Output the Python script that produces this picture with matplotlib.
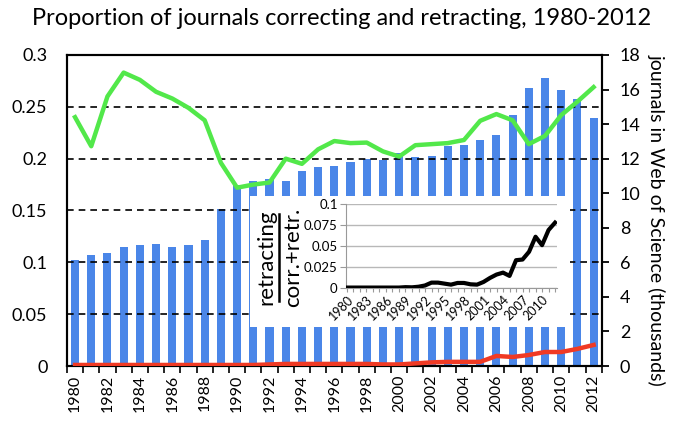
import matplotlib.pyplot as plt
from matplotlib.patches import Rectangle
from matplotlib.lines import Line2D
import numpy as np

plt.rcParams['font.family'] = ['Lato', 'DejaVu Sans']

years = list(range(1980, 2013))

# journals in Web of Science (thousands), blue bars, right axis
journals_wos = [6.11, 6.40, 6.54, 6.89, 6.99, 7.07, 6.89, 6.99, 7.32, 9.10,
                10.45, 10.70, 10.80, 10.70, 11.30, 11.50, 11.60, 11.80, 12.00, 11.95,
                12.35, 12.10, 12.15, 12.73, 12.77, 13.06, 13.35, 14.53, 16.08, 16.66,
                15.97, 15.45, 14.34]

# proportion of journals correcting (green) and retracting (red), left axis
prop_correcting = [0.240, 0.212, 0.260, 0.283, 0.276, 0.2645, 0.258, 0.249, 0.237, 0.196,
                   0.172, 0.175, 0.177, 0.200, 0.195, 0.209, 0.217, 0.215, 0.2155, 0.207,
                   0.202, 0.213, 0.214, 0.215, 0.218, 0.2365, 0.243, 0.237, 0.214, 0.222,
                   0.242, 0.255, 0.269]
prop_retracting = [0.001, 0.001, 0.001, 0.001, 0.001, 0.001, 0.001, 0.001, 0.001, 0.001,
                   0.001, 0.001, 0.0015, 0.002, 0.002, 0.002, 0.002, 0.002, 0.002, 0.0015,
                   0.0015, 0.0025, 0.0035, 0.004, 0.004, 0.004, 0.0097, 0.0087, 0.0106, 0.0135,
                   0.0135, 0.0165, 0.0203]

# inset: retracting / (corr. + retr.)
ratio = [0.0005, 0.0005, 0.0005, 0.0005, 0.0005, 0.0005, 0.0005, 0.0005, 0.0005, 0.001,
         0.0008, 0.0015, 0.003, 0.0064, 0.0064, 0.0052, 0.004, 0.006, 0.006, 0.0044,
         0.004, 0.0072, 0.012, 0.016, 0.0183, 0.0144, 0.0331, 0.0339, 0.0431, 0.061,
         0.051, 0.069, 0.0778]

left_ticks = [0, 0.05, 0.1, 0.15, 0.2, 0.25, 0.3]
left_labels = ['0', '0.05', '0.1', '0.15', '0.2', '0.25', '0.3']
right_ticks = list(range(0, 19, 2))
inset_yticks = [0, 0.025, 0.05, 0.075, 0.1]
inset_ylabels = ['0', '0.025', '0.05', '0.075', '0.1']

fig = plt.figure(figsize=(6.83, 4.22), dpi=100)
ax = fig.add_axes([0.098, 0.1327, 0.783, 0.737])
ax2 = ax.twinx()
ax.set_zorder(2)
ax2.set_zorder(1)
ax.patch.set_visible(False)

# bars
ax2.bar(years, journals_wos, width=0.5, color='#4a86e8', zorder=1)
ax2.set_ylim(0, 18)
ax2.set_yticks(right_ticks)
ax2.tick_params(axis='y', direction='out', length=5, width=1.3, labelsize=13, pad=8)

# lines
ax.plot(years, prop_correcting, color='#52e84a', lw=3.2, zorder=3, solid_joinstyle='round')
ax.plot(years, prop_retracting, color='#f03a24', lw=3.2, zorder=3, solid_joinstyle='round')
ax.set_ylim(0, 0.3)
ax.set_yticks(left_ticks)
ax.set_yticklabels(left_labels)
ax.tick_params(axis='y', length=0, labelsize=13, pad=14)
ax.set_axisbelow(True)
ax.yaxis.grid(True, linestyle=(0, (4, 3)), color='black', lw=1.2)

ax.set_xlim(1979.5, 2012.5)
ax.set_xticks(years[::2])
ax.set_xticklabels([str(y) for y in years[::2]], rotation=90)
ax.set_xticks(np.arange(1979.5, 2013, 1), minor=True)
ax.tick_params(axis='x', which='major', length=0, labelsize=11.5, pad=6)
ax.tick_params(axis='x', which='minor', length=5, width=1.2, direction='out')

for a in (ax, ax2):
    for s in a.spines.values():
        s.set_linewidth(1.5)
        s.set_color('black')

# white box behind inset
box = Rectangle((250 / 683, 1 - 327 / 422), 320 / 683, 131 / 422,
                transform=fig.transFigure, facecolor='white', edgecolor='none',
                zorder=2.5, clip_on=False)
ax.add_patch(box)

# inset
ins = fig.add_axes([346 / 683, 1 - 288 / 422, 211 / 683, 84 / 422])
ins.set_zorder(5)
ins.patch.set_visible(False)
ins.plot(years, ratio, color='black', lw=3, solid_joinstyle='round', zorder=3)
ins.set_ylim(0, 0.1)
ins.set_xlim(1979.85, 2012.3)
ins.set_yticks(inset_yticks)
ins.set_yticklabels(inset_ylabels)
ins.yaxis.grid(True, color='#b8b8b8', lw=1)
ins.set_axisbelow(True)
ins.set_xticks(years)
ins.set_xticklabels([str(y) if (y - 1980) % 3 == 0 and y < 2012 else '' for y in years],
                    rotation=45, ha='right', rotation_mode='anchor')
ins.tick_params(axis='x', length=3, color='#999999', labelsize=9, pad=1)
ins.tick_params(axis='y', length=4, color='#999999', labelsize=9.5, pad=2)
for s in ('top', 'right'):
    ins.spines[s].set_visible(False)
for s in ('left', 'bottom'):
    ins.spines[s].set_color('#999999')

# fraction label
fig.text(266 / 683, 1 - 257 / 422, 'retracting', rotation=90, ha='center', va='center',
         fontsize=16, zorder=6)
fig.text(293 / 683, 1 - 257 / 422, 'corr.+retr.', rotation=90, ha='center', va='center',
         fontsize=16, zorder=6)
fig.add_artist(Line2D([279 / 683, 279 / 683], [1 - 214 / 422, 1 - 301 / 422],
                      transform=fig.transFigure, color='black', lw=1.8, zorder=6))

fig.text(0.5, 0.955, 'Proportion of journals correcting and retracting, 1980-2012',
         ha='center', va='center', fontsize=17)
fig.text(0.962, 0.48, 'journals in Web of Science (thousands)', rotation=270,
         ha='center', va='center', fontsize=14)

fig.savefig('out.png', dpi=100)
